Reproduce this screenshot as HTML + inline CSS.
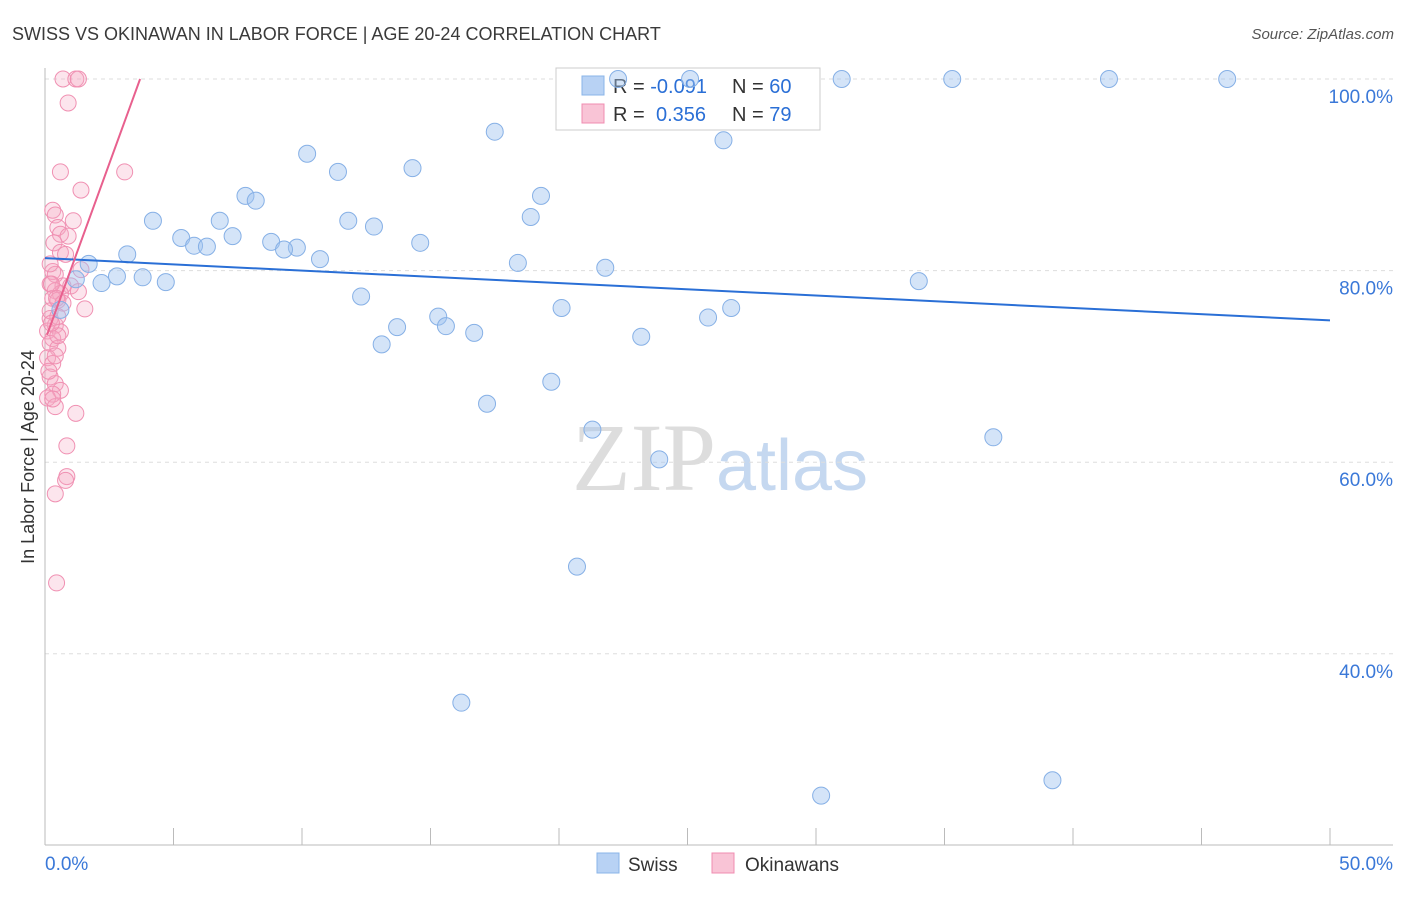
<!DOCTYPE html>
<html><head><meta charset="utf-8">
<style>
body{margin:0;background:#fff;font-family:"Liberation Sans",sans-serif;}
</style></head>
<body>
<svg id="chart" width="1406" height="892" xmlns="http://www.w3.org/2000/svg" font-family="Liberation Sans, sans-serif">
<text x="12" y="40" font-size="18" fill="#3a3a3a">SWISS VS OKINAWAN IN LABOR FORCE | AGE 20-24 CORRELATION CHART</text>
<text x="1394" y="39" font-size="15" fill="#555" text-anchor="end" font-style="italic">Source: ZipAtlas.com</text>
<text transform="translate(34,457) rotate(-90)" font-size="18" fill="#333" text-anchor="middle">In Labor Force | Age 20-24</text>
<text x="720" y="490" font-size="96" text-anchor="middle" fill="#ddd" font-family="Liberation Serif, serif">ZIP<tspan fill="#c5d8f0" font-family="Liberation Sans, sans-serif" font-size="72">atlas</tspan></text>
<g id="grid"></g>
<g id="axes"></g>
<g>
<rect x="556" y="68" width="264" height="62" fill="#fff" stroke="#ccc"/>
<rect x="582" y="76" width="22" height="19" fill="#b8d2f4" stroke="#8ab4e8"/>
<rect x="582" y="104" width="22" height="19" fill="#f9c4d6" stroke="#f08cb0"/>
<text x="613" y="93" font-size="20" fill="#333">R = <tspan fill="#2a6fd6">-0.091</tspan><tspan x="732">N = </tspan><tspan fill="#2a6fd6">60</tspan></text>
<text x="613" y="121" font-size="20" fill="#333">R = <tspan fill="#2a6fd6" x="656">0.356</tspan><tspan x="732">N = </tspan><tspan fill="#2a6fd6">79</tspan></text>
</g>
<g id="marks"></g>
<g>
<rect x="597" y="853" width="22" height="20" fill="#b8d2f4" stroke="#8ab4e8"/>
<text x="628" y="871" font-size="19" fill="#333">Swiss</text>
<rect x="712" y="853" width="22" height="20" fill="#f9c4d6" stroke="#f08cb0"/>
<text x="745" y="871" font-size="19" fill="#333">Okinawans</text>
</g>
</svg>
<script>
const yTicks=[40,60,80,100];
const xTickLabels=["0.0%","50.0%"];
const swissX=[22.3,25.1,31.0,35.3,41.4,46.0,17.5,26.4,10.2,11.4,14.3,7.8,8.2,19.3,4.2,6.8,11.8,18.9,12.8,5.3,7.3,5.8,6.3,8.8,9.8,9.3,14.6,3.2,10.7,1.7,18.4,21.8,2.8,3.8,2.2,4.7,1.2,34.0,12.3,20.1,26.7,25.8,15.3,15.6,13.7,16.7,23.2,13.1,19.7,17.2,36.9,21.3,23.9,20.7,16.2,39.2,30.2,0.6];
const swissY=[100,100,100,100,100,100,94.5,93.6,92.2,90.3,90.7,87.8,87.3,87.8,85.2,85.2,85.2,85.6,84.6,83.4,83.6,82.6,82.5,83.0,82.4,82.2,82.9,81.7,81.2,80.7,80.8,80.3,79.4,79.3,78.7,78.8,79.1,78.9,77.3,76.1,76.1,75.1,75.2,74.2,74.1,73.5,73.1,72.3,68.4,66.1,62.6,63.4,60.3,49.1,34.9,26.8,25.2,75.9];
const okiX=[0.7,1.2,1.3,0.9,0.6,3.1,1.4,0.3,0.4,1.1,0.5,0.6,0.9,0.35,0.6,0.8,0.3,0.4,1.4,0.2,0.7,1.0,0.4,0.6,1.3,0.3,0.5,1.55,0.2,0.4,0.1,0.6,0.3,0.2,0.5,0.1,0.3,0.4,0.2,0.4,0.6,0.3,0.1,0.4,1.2,0.85,0.85,0.8,0.4,0.45,0.2,0.25,0.45,0.7,0.2,0.5,0.15,0.3,0.5,0.25];
const okiY=[100,100,100,97.5,90.3,90.3,88.4,86.3,85.8,85.2,84.5,83.8,83.6,82.9,81.9,81.7,79.9,79.6,80.1,78.6,78.4,78.4,77.9,77.6,77.8,77.1,76.9,76.0,75.0,74.3,73.7,73.6,72.9,72.4,71.9,70.9,70.3,71.1,68.9,68.2,67.5,67.1,66.7,65.8,65.1,61.7,58.5,58.1,56.7,47.4,80.7,78.6,77.1,76.6,75.8,75.2,69.5,66.6,73.2,74.5];
const swissTrend=[81.3,74.8];
const okiTrend=[73.3,100];
const okiTrendX=[0.08,3.7];
const NS="http://www.w3.org/2000/svg";
const X=v=>45+v*25.7;
const Y=v=>79+(100-v)*9.58;
function mk(tag,attrs,parent){const e=document.createElementNS(NS,tag);for(const k in attrs)e.setAttribute(k,attrs[k]);parent.appendChild(e);return e;}
const grid=document.getElementById('grid'),axes=document.getElementById('axes'),marks=document.getElementById('marks');
yTicks.forEach(t=>{
 const l=mk('line',{x1:45,x2:1393,y1:Y(t),y2:Y(t),stroke:'#ddd','stroke-dasharray':'4,4'},grid);
 
 
 const tx=mk('text',{x:1393,y:Y(t)+24,'font-size':19,fill:'#3a78d8','text-anchor':'end'},axes);
 tx.textContent=t.toFixed(1)+'%';
 
 
});
const xa=mk('line',{x1:45,x2:1393,y1:845,y2:845,stroke:'#bbb'},axes);


const ya=mk('line',{x1:45,x2:45,y1:68,y2:845,stroke:'#bbb'},axes);


for(let i=0;i<=10;i++){
 const t=mk('line',{x1:X(i*5),x2:X(i*5),y1:828,y2:845,stroke:'#bbb'},axes);
 
 
}
[[0,'start',45],[50,'end',1393]].forEach((p,i)=>{
 const t=mk('text',{x:p[2],y:870,'font-size':19,fill:'#3a78d8','text-anchor':p[1]},axes);
 t.textContent=xTickLabels[i];
 
 
});
okiX.forEach((v,i)=>{
 const c=mk('circle',{cx:X(v),cy:Y(okiY[i]),r:8,fill:'rgba(246,170,196,0.3)',stroke:'#f090b2','stroke-width':1},marks);
 
 
});
swissX.forEach((v,i)=>{
 const c=mk('circle',{cx:X(v),cy:Y(swissY[i]),r:8.5,fill:'rgba(160,196,240,0.45)',stroke:'#86b0e6','stroke-width':1},marks);
 
 
});
const sl=mk('line',{x1:X(0),y1:Y(swissTrend[0]),x2:X(50),y2:Y(swissTrend[1]),stroke:'#2a6fd6','stroke-width':2},marks);


const ol=mk('line',{x1:X(okiTrendX[0]),y1:Y(okiTrend[0]),x2:X(okiTrendX[1]),y2:Y(okiTrend[1]),stroke:'#e8608e','stroke-width':2},marks);


</script>
</body></html>
